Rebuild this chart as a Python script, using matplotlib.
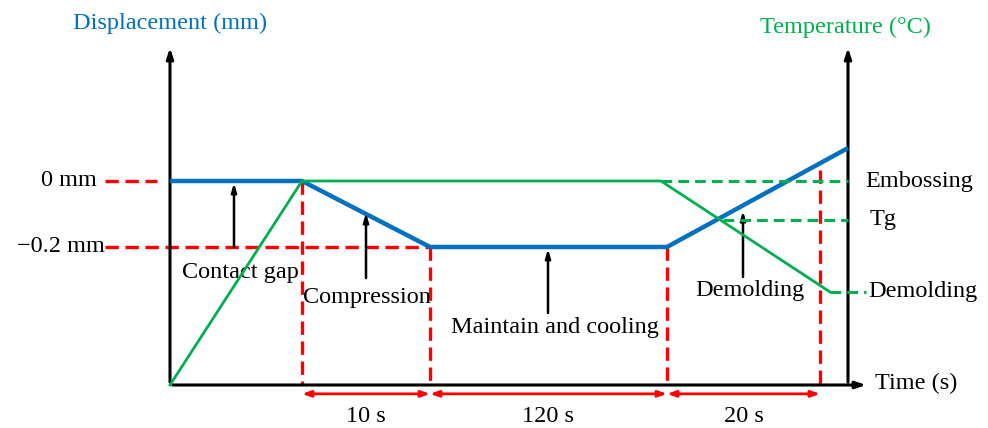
import matplotlib
matplotlib.use("Agg")
import matplotlib.pyplot as plt

plt.rcParams["font.family"] = ["Liberation Serif", "DejaVu Serif"]

BLUE = "#0070C0"
GREEN = "#00B050"
RED = "#FF0000"

# ---------------------------------------------------------
# SCHEMATIC DATA (time in schematic units, not to scale)
# ---------------------------------------------------------

# phase boundaries on the time axis
t_contact = 1.32
t_compress = 2.60
t_hold = 4.97
t_demold = 6.50
t_end = 6.78

# displacement profile (mm)
disp_t = [0.0, t_contact, t_compress, t_hold, t_end]
disp_mm = [0.0, 0.0, -0.2, -0.2, 0.1]

# temperature profile (relative levels)
temp_t = [0.0, t_contact, 4.91, 6.60]
temp_lvl = [0.0, 2.04, 2.04, 0.93]
T_emboss = 2.04
T_g = 1.65
T_demold = 0.93

phase_labels = ["10 s", "120 s", "20 s"]
phase_edges = [t_contact, t_compress, t_hold, t_demold]

# annotation arrows: (x, y_from, y_to, label, label_x, label_y)
notes = [
    (0.64, -0.2, -0.006, "Contact gap", 0.70, -0.276),
    (1.96, -0.294, -0.097, "Compression", 1.97, -0.352),
    (3.78, -0.400, -0.206, "Maintain and cooling", 3.85, -0.445),
    (5.73, -0.291, -0.091, "Demolding", 5.80, -0.333),
]

# ---------------------------------------------------------
# FIGURE
# ---------------------------------------------------------

W, H = 988, 428
fig = plt.figure(figsize=(W / 100, H / 100), dpi=100)
ax = fig.add_axes([170 / W, 43 / H, 678 / W, 340 / H])
ax.set_xlim(0, t_end)
ax.set_ylim(-0.6182, 0.4121)
ax2 = ax.twinx()
ax2.set_ylim(0, 3.4)
ax2.set_position(ax.get_position())

for a in (ax, ax2):
    for s in a.spines.values():
        s.set_visible(False)
    a.set_xticks([])
    a.set_yticks([])

FS = 17.5

# axis arrows
ax_arrow = dict(arrowstyle="-|>,head_length=0.6,head_width=0.2", color="black", lw=2.2)
ax.annotate("", xy=(0, 1), xytext=(0, 0), xycoords="axes fraction", arrowprops=ax_arrow)
ax.annotate("", xy=(1, 1), xytext=(1, 0), xycoords="axes fraction", arrowprops=ax_arrow)
ax.annotate("", xy=(1.031, 0), xytext=(0, 0), xycoords="axes fraction",
            arrowprops=ax_arrow, annotation_clip=False)
ax.text(7.05, -0.612, "Time (s)", fontsize=FS, va="center", ha="left", clip_on=False)

# red reference lines
dash = dict(color=RED, lw=2.4, ls=(0, (4.0, 2.0)), clip_on=False)
ax.plot([-0.65, -0.13], [0, 0], **dash)
ax.plot([-0.65, t_compress], [-0.2, -0.2], **dash)
ax.plot([t_contact, t_contact], [0, -0.6182], **dash)
ax.plot([t_compress, t_compress], [-0.2, -0.6182], **dash)
ax.plot([t_hold, t_hold], [-0.2, -0.6182], **dash)
ax.plot([t_demold, t_demold], [0.033, -0.6182], **dash)
ax.text(-0.73, 0, "0 mm", fontsize=FS, ha="right", va="center")
ax.text(-0.65, -0.2, "\u22120.2 mm", fontsize=FS, ha="right", va="center")

# phase duration arrows
for i, lab in enumerate(phase_labels):
    a0, a1 = phase_edges[i], phase_edges[i + 1]
    ax.annotate("", xy=(a1, -0.645), xytext=(a0, -0.645),
                arrowprops=dict(arrowstyle="<|-|>,head_length=0.5,head_width=0.18",
                                color=RED, lw=2, shrinkA=0, shrinkB=0),
                annotation_clip=False)
    ax.text((a0 + a1) / 2, -0.715, lab, fontsize=FS, ha="center", va="center")

# temperature curve and levels
gdash = dict(color=GREEN, lw=2.2, ls=(0, (3.5, 2)), clip_on=False)
ax2.plot(temp_t, temp_lvl, color=GREEN, lw=2.0, clip_on=False)
ax2.plot([4.91, t_end], [T_emboss, T_emboss], **gdash)
ax2.plot([5.53, t_end], [T_g, T_g], **gdash)
ax2.plot([6.60, 6.96], [T_demold, T_demold], **gdash)
ax2.text(6.95, T_emboss, "Embossing", fontsize=FS, va="center", ha="left")
ax2.text(7.00, T_g, "Tg", fontsize=FS, va="center", ha="left")
ax2.text(6.98, T_demold, "Demolding", fontsize=FS, va="center", ha="left")

# displacement curve
ax.plot(disp_t, disp_mm, color=BLUE, lw=3.2, solid_capstyle="butt", clip_on=False, zorder=5)

# stage annotations
for x, y0, y1, lab, lx, ly in notes:
    ax.annotate("", xy=(x, y1), xytext=(x, y0),
                arrowprops=dict(arrowstyle="-|>,head_length=0.5,head_width=0.15",
                                color="black", lw=1.8, shrinkA=0, shrinkB=0), zorder=6)
    ax.text(lx, ly, lab, fontsize=FS, ha="center", va="center", zorder=7)

# axis titles
fig.text(170 / W, 1 - 23 / H, "Displacement (mm)", color=BLUE, fontsize=FS,
         ha="center", va="center")
fig.text(845 / W, 1 - 27 / H, "Temperature (\u00b0C)", color=GREEN, fontsize=FS,
         ha="center", va="center")

fig.savefig("out.png", dpi=100)
